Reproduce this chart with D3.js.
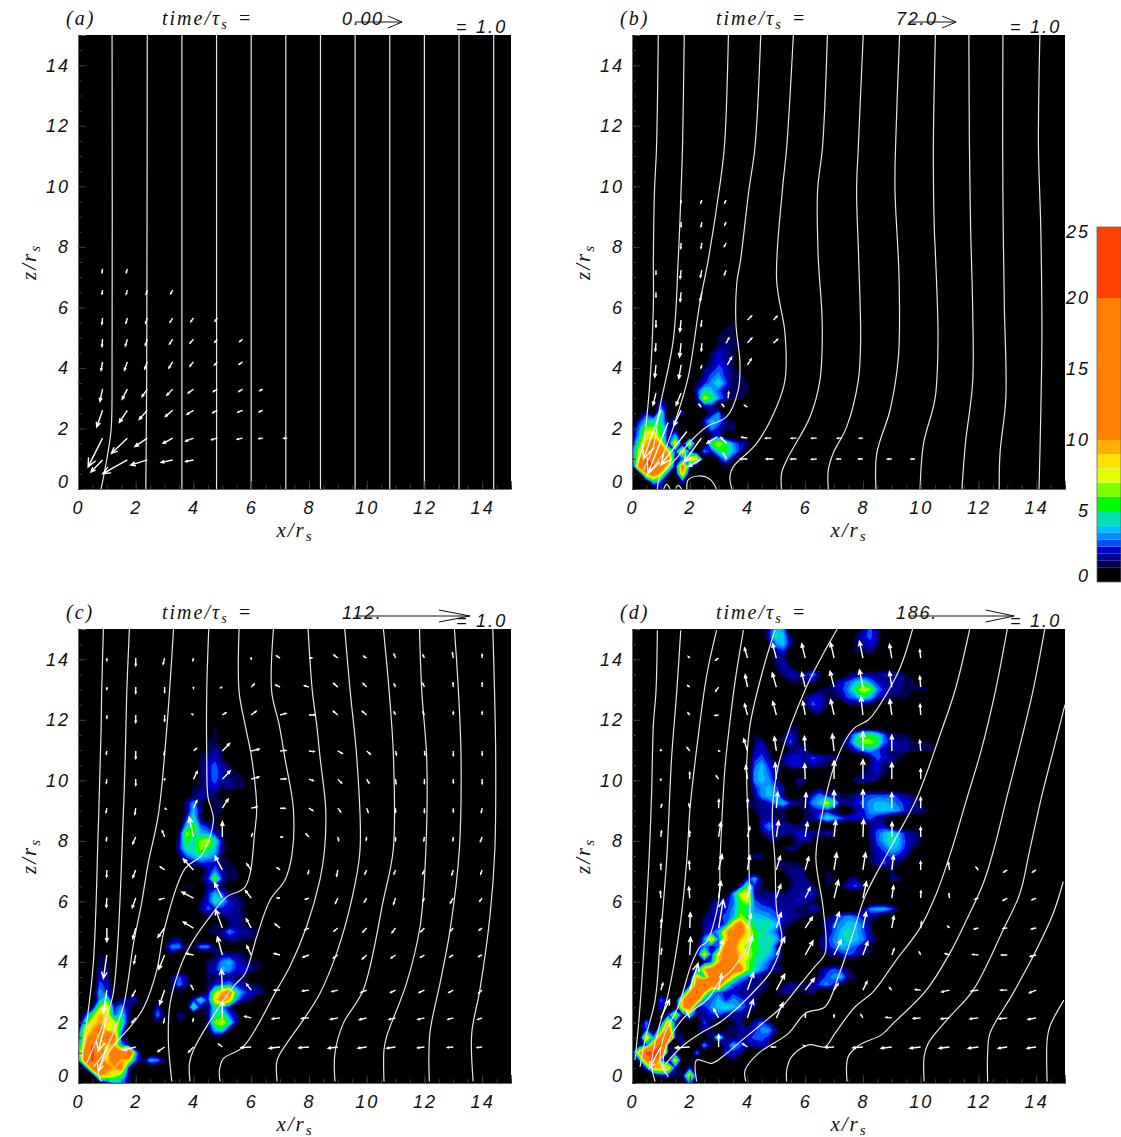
<!DOCTYPE html>
<html><head><meta charset="utf-8">
<script src="https://cdn.jsdelivr.net/npm/d3@7"></script>
<style>html,body{margin:0;padding:0;background:#fff}svg{display:block}</style>
</head><body><svg id="c" width="1121" height="1137"></svg>
<script>
// ---------- colour bands ----------
const bandEdges = [1,1.5,2,2.5,3,3.5,4,5,6,7,8,9,10,20,25];
const bandColors = ["#000050","#000090","#0000d0","#0050ff","#0090ff","#00c0ff","#00e0b0","#00ff00","#80ff00","#e0ff00","#ffe000","#ffb000","#ff8000","#ff4000"];
const colorbarTicks = [0,5,10,15,20,25];
const heatCodes = ".abcdefghijklmn";
const heatValues = [0,1.25,1.75,2.25,2.75,3.25,3.75,4.5,5.5,6.5,7.5,8.5,9.5,12,22];
const heatStep = 0.25;

// ---------- density samples: [row, startColumn, codes]; row*0.25 = z, col*0.25 = x ----------
const heatA = [];
const heatB = [
[22,14,"a"],[21,13,"aa"],[20,12,"aaa"],[19,12,"abaa"],[18,11,"acba"],[17,11,"bcba"],[16,10,"abdca"],[15,10,"bdecaa"],
[14,9,"acegdaaa"],[13,9,"cgfdbaa"],[13,15,"aa"],[12,4,"a"],[12,9,"ajhecaa"],[11,4,"da"],[11,9,"abc"],[10,2,"c"],[10,4,"h"],[10,7,"c"],[10,11,"be"],
[9,1,"cfgga"],[9,6,"c"],[9,10,"cfeba"],[8,0,"aeiihca"],[8,10,"aecab"],[7,0,"afkkhbf"],[7,9,"a"],[7,11,"ac"],
[6,0,"bhlmlal"],[6,8,"k"],[6,11,"hjhecb"],[5,0,"cjmmmkcl"],[5,8,"c"],[5,10,"ecghfc"],[4,0,"bknmnmbdkk"],[4,12,"bfb"],
[3,1,"mnnmkam"],[3,8,"d"],[3,13,"a"],[2,2,"lmkc"],[2,7,"l"],[1,3,"gd"],[1,7,"c"],[0,4,"b"]
];
const heatC = [
[47,19,"a"],[46,19,"a"],[45,18,"aa"],[44,18,"aba"],[43,17,"abca"],[42,17,"acdba"],[41,17,"acdcaa"],[40,17,"acdbbaa"],[39,16,"aabcabaa"],
[38,16,"acb"],[38,19,"a"],[37,15,"bea"],[37,19,"aa"],[36,15,"afb"],[36,19,"aa"],[35,15,"cga"],[35,19,"a"],[34,15,"fhdca"],[33,14,"aihfeca"],
[32,14,"bhgijgb"],[31,14,"cggihfb"],[30,14,"adfgfea"],[29,15,"abcccaa"],[28,18,"bebaa"],[27,17,"acicaa"],[26,15,"aa"],[26,18,"bba"],
[25,18,"cfdaa"],[24,17,"acgfcba"],[23,17,"bdcccba"],[22,18,"a"],[22,20,"abba"],[21,19,"a"],[21,21,"aba"],[20,18,"aabecbba"],[19,20,"abbaa"],[19,13,"ab"],
[18,12,"aeea"],[18,16,"aeea"],[17,13,"a"],[17,19,"abbba"],[17,3,"a"],[16,3,"aa"],[16,18,"abefcbaa"],[15,3,"ba"],[15,18,"bcfeccba"],[14,3,"cb"],[14,13,"adb"],[14,18,"aabbaa"],
[13,3,"dc"],[13,13,"aeb"],[13,18,"acdecbaa"],[12,3,"fc"],[12,5,"a"],[12,13,"a"],[12,18,"bilmgdcba"],[11,3,"eh"],[11,6,"ba"],[11,7,"bc"],[11,16,"cg"],[11,18,"ckmkeba"],
[10,2,"aikcea"],[10,7,"b"],[10,11,"c"],[10,16,"hb"],[10,18,"ageb"],[9,1,"chlkdgb"],[9,11,"ea"],[9,14,"ba"],[9,18,"bghdb"],[8,1,"gklkjha"],[8,11,"a"],[8,14,"a"],[8,18,"aijgb"],
[7,0,"ajlnjkf"],[7,18,"afga"],[6,0,"bkmlnmc"],[6,19,"a"],[5,0,"clnmkleb"],[4,0,"gmnmkmmnf"],[3,0,"cmnmkmlkd"],[3,9,"afea"],[2,1,"bmnmlmc"],[1,3,"lkjhb"],[0,4,"a"],[0,5,"eeb"]
];
const heatD = [
[60,19,"cfe"],[60,32,"bdb"],[59,19,"cgfa"],[59,31,"acdb"],[58,19,"aefb"],[58,31,"abcb"],[57,20,"bc"],[57,31,"aab"],[56,20,"bb"],[55,20,"aca"],
[54,16,"a"],[54,21,"bcb"],[54,24,"beb"],[54,30,"abbbbcbba"],[53,22,"aa"],[53,24,"ab"],[53,28,"acdfgecbbbaa"],[52,26,"aabcehjiecbbaaaa"],[51,24,"acca"],[51,28,"abdegfcbaaa"],
[50,24,"adca"],[50,30,"aaaa"],[49,25,"ab"],[47,22,"aa"],[46,17,"a"],[46,21,"aca"],[46,30,"bfhhgdaaa"],[45,17,"ac"],[45,21,"ada"],[45,29,"acgiihdcbbaaa"],
[44,17,"bca"],[44,22,"abb"],[44,30,"acefdbabbaaaa"],[43,17,"cdb"],[43,21,"bccbdcbba"],[43,33,"adcba"],[42,17,"dfcb"],[42,21,"accbbba"],[42,33,"bcaa"],[41,17,"efdb"],[41,32,"abca"],
[40,17,"efeb"],[40,23,"bb"],[40,31,"bbba"],[39,17,"cefdb"],[39,23,"a"],[39,26,"a"],[39,28,"a"],[38,17,"befea"],[38,24,"acecbaa"],[38,31,"bcddddcba"],
[37,16,"aabcefcbaefjgbbcd"],[37,33,"effedcba"],[36,17,"abbaa"],[36,24,"abcca"],[36,31,"bcefffecbba"],[35,18,"bbaa"],[35,24,"abdgfdcccdba"],[34,18,"cecbbaa"],[34,33,"acb"],
[33,18,"acbbbccbbcb"],[33,33,"bdfgecba"],[32,19,"aa"],[32,23,"bba"],[32,33,"adfgfcba"],[31,21,"aba"],[31,33,"acdfeca"],[30,16,"abb"],[30,33,"abcdcb"],[29,20,"abaa"],[29,33,"abdba"],[29,36,"a"],
[28,21,"abba"],[28,27,"a"],[28,36,"a"],[27,16,"cfa"],[27,22,"abb"],[27,27,"aa"],[27,30,"ab"],[27,36,"bb"],[26,15,"bhc"],[26,18,"a"],[26,22,"abbb"],[26,27,"a"],[26,29,"acdb"],
[25,14,"ejjb"],[25,18,"abba"],[25,22,"bbcca"],[24,11,"abcdhjdcbbbbcba"],[23,11,"bccehgeddcbba"],[23,24,"acb"],[23,32,"aeffda"],[22,10,"abcdeihffedcbba"],[22,27,"abdedcba"],
[21,10,"bcbdkmigggfba"],[21,26,"abdeffda"],[20,10,"bcflmmkhgfda"],[20,27,"bdfgfdb"],[19,10,"eldkmljhggfb"],[19,26,"acefgfeba"],[18,9,"aebdmmjihggc"],[18,26,"acdfedba"],
[17,9,"akc"],[17,12,"kmmkjhgfda"],[17,27,"abcdcaa"],[16,10,"a"],[16,11,"dlmmkigfdb"],[15,9,"dlmmmmmigecba"],[15,26,"acdca"],[14,9,"lgmnmjfdba"],[14,26,"bdefb"],[14,31,"a"],
[13,8,"bmnmmhdcbbba"],[13,21,"abba"],[13,25,"bdeca"],[12,7,"alnlfdccbbba"],[12,20,"abb"],[12,24,"ab"],[11,4,"db"],[11,7,"knmedfcedcb"],[10,1,"a"],[10,4,"c"],[10,7,"lmccefgfeca"],
[9,5,"cja"],[9,8,"gabcdbbba"],[8,2,"e"],[8,4,"alc"],[8,10,"da"],[8,14,"ab"],[8,17,"cdb"],[7,2,"d"],[7,4,"hmb"],[7,9,"aba"],[7,13,"aa"],[7,15,"bbceeb"],
[6,2,"le"],[6,4,"mna"],[6,7,"b"],[6,11,"ahb"],[6,14,"abcddc"],[5,1,"acmna"],[5,7,"b"],[5,10,"fa"],[5,13,"bfdbbca"],[4,0,"alnnna"],[4,6,"b"],[4,9,"e"],[4,13,"dcb"],
[3,1,"cmnd"],[3,6,"k"],[3,14,"a"],[2,2,"dlllc"],[2,8,"c"],[1,4,"bb"],[1,6,"a"],[1,7,"aka"],[0,8,"e"]
];

// ---------- field lines: x, z pairs ----------
const linesA = [
[[1.18,15],[1.18,4],[1.15,2],[1.0,1],[.8,0]],
[[2.4,15],[2.38,4],[2.35,0]],[[3.6,15],[3.6,0]],[[4.8,15],[4.8,0]],[[6.0,15],[6.0,0]],[[7.2,15],[7.2,0]],
[[8.4,15],[8.4,0]],[[9.6,15],[9.6,0]],[[10.8,15],[10.8,0]],[[12,15],[12,0]],[[13.2,15],[13.2,0]],[[14.4,15],[14.4,0]]
];
const linesB = [
[[.91,15],[.85,11.3],[.78,9.87],[.74,7.56],[.74,6.03],[.6,3.27],[.39,1.51],[.16,.74]],
[[1.81,15],[1.75,11.3],[1.7,9.87],[1.6,7.56],[1.43,4.92],[.97,2.72],[.74,1.4],[.39,.63]],
[[3.34,15],[3.2,11.3],[3.02,9.88],[2.64,7.56],[2.35,6.14],[1.95,3.71],[1.55,2.39],[1.08,1.18],[.56,.52]],
[[4.46,15],[4.26,11.3],[4.05,9.88],[3.76,7.56],[3.63,6.8],[3.6,5.47],[3.74,4.15],[3.68,3.27],[3.28,2.39],[2.59,2.06],[2.07,1.62],[1.49,.96],[.97,.41],[.88,0]],
[[5.59,15],[5.36,11.3],[5.21,9.88],[5.01,6.91],[5.3,5.14],[5.3,3.6],[5.01,2.72],[4.32,1.51],[3.51,.74],[3.39,.41],[3.46,0]],
[[6.77,15],[6.6,11.3],[6.43,9.87],[6.45,7.68],[6.59,5.47],[6.51,3.6],[6.17,2.39],[5.36,.96],[5.18,.52],[5.18,0]],
[[8.01,15],[7.84,11.3],[7.78,9.87],[7.85,7.68],[7.92,4.92],[7.84,3.6],[7.44,2.06],[6.97,1.18],[6.8,.63],[6.8,0]],
[[9.27,15],[9.13,11.3],[9.11,9.88],[9.23,7.56],[9.26,6.58],[9.23,4.37],[8.94,2.61],[8.48,1.18],[8.45,0]],
[[10.51,15],[10.44,11.3],[10.47,8.66],[10.52,7.56],[10.6,5],[10.5,3],[10.1,1.5],[9.98,0]],
[[11.67,15],[11.69,11.3],[11.73,8.66],[11.8,6],[11.8,3.5],[11.55,1.5],[11.43,0]],
[[12.85,15],[12.84,11.3],[12.86,8.66],[12.9,6],[12.95,3],[12.75,1.2],[12.72,0]],
[[14.13,15],[14.08,11.3],[14.16,8.66],[14.2,5],[14.15,2],[14.1,0]],
[[1.9,0],[1.95,.3],[2.3,.43],[2.7,.32],[2.93,0]],
[[1.1,0],[1.2,.15],[1.32,0]],[[1.5,0],[1.6,.12],[1.72,0]]
];
const linesC = [
[[.88,15],[.82,12.93],[.8,11.66],[.7,8.36],[.53,3.95],[.24,1.53],[.13,.76]],
[[1.78,15],[1.69,12.93],[1.65,11.3],[1.57,8.9],[1.2,2.85],[.88,1.97],[.3,.65]],
[[3.31,15],[3.17,12.93],[3.07,11.66],[2.79,8.9],[2.43,7.25],[2.2,5.93],[1.92,4.6],[1.57,2.52],[1.17,1.53],[.82,.87],[.54,.54]],
[[4.53,15],[4.46,12.93],[4.46,10.72],[4.5,9.46],[4.69,8.69],[4.28,7.53],[3.71,7.09],[3.01,5.16],[2.73,3.73],[2.29,2.52],[1.86,1.91],[1.11,1.09],[.71,.32],[.82,.05]],
[[5.58,15],[5.58,12.93],[5.79,11.83],[6.02,10.72],[6.19,9.07],[6.13,8.36],[5.79,6.48],[5.15,6.15],[4.57,5.49],[4,4.72],[3.59,3.95],[3.19,2.63],[3.13,1.42],[3.25,.05]],
[[6.77,15],[6.71,12.93],[6.97,11.83],[7.17,10.72],[7.46,9.07],[7.41,7.53],[7.17,6.71],[6.65,6.04],[6.19,4.83],[5.79,3.62],[5.38,3.18],[4.52,1.97],[4,1.09],[3.86,.65],[3.88,.05]],
[[7.97,15],[8.12,12.93],[8.27,11.83],[8.39,10.72],[8.58,9.07],[8.54,7.7],[8.38,6.71],[7.92,5.17],[7.34,3.85],[6.88,3.07],[5.73,1.2],[5.03,.8],[4.9,.43],[4.92,.05]],
[[9.24,15],[9.43,12.93],[9.66,10.72],[9.77,7.7],[9.48,6.05],[8.96,4.29],[8.38,2.96],[7.8,2.08],[7.23,1.31],[6.9,.76],[6.9,.05]],
[[10.58,15],[10.78,12.93],[10.93,10.72],[10.92,7.7],[10.58,6.05],[9.88,3.07],[9.19,1.97],[8.9,.98],[8.9,.05]],
[[11.83,15],[11.91,12.93],[12.08,10.72],[12.05,7.7],[11.85,5.17],[11.38,3.29],[10.69,1.53],[10.6,1.09],[10.6,.05]],
[[13.04,15],[13.18,12.93],[13.27,10.72],[13.21,7.7],[12.89,5.06],[12.54,3.29],[12.19,1.64],[12.17,.05]],
[[14.37,15],[14.43,12.93],[14.47,10.72],[14.44,7.7],[14.27,5.5],[13.92,3.07],[13.64,1.64],[13.69,.05]]
];
const linesD = [
[[.88,14.96],[.83,12.93],[.74,11.83],[.68,9.62],[.59,7.37],[.39,4.07],[.22,1.86],[.1,.76]],
[[1.69,14.96],[1.55,12.93],[1.37,10.72],[1.2,7.37],[.97,4.62],[.8,2.74],[.45,1.42],[.28,.54]],
[[2.93,14.96],[2.59,13.48],[2.3,11.5],[2.01,9.07],[1.9,7.37],[1.66,5.17],[1.26,2.96],[.91,1.75],[.68,.65],[.8,.05]],
[[3.86,14.96],[3.57,13.26],[3.34,11.5],[3.22,10.4],[3.05,7.37],[3.0,6],[2.59,4.67],[2.36,4.5],[2.07,3.96],[1.6,2.52],[1.14,1.64],[.97,.87],[1.14,.32]],
[[4.95,14.96],[4.55,13.7],[4.09,11.83],[3.97,10.4],[4.03,8.52],[4.05,7.37],[4.03,4.62],[3.8,4.18],[3.45,3.73],[2.99,3.3],[2.65,2.8],[1.72,2.08],[1.14,1.09],[1.09,.54],[1.26,.2]],
[[7.11,15],[6.05,13.1],[5.13,10.72],[4.89,9.4],[4.86,8.52],[4.95,7.37],[5.01,5.72],[5.19,4.78],[4.84,3.73],[4.38,3.18],[3.57,2.41],[2.99,1.97],[2.47,1.7],[1.72,1.2],[1.14,.6]],
[[9.72,15],[9.28,13.7],[8.59,12.5],[8.19,12],[7.67,11.7],[7.09,10.7],[6.51,8.52],[6.37,7.42],[6.63,5.72],[6.69,4.29],[6.34,3.85],[5.76,3.18],[5.19,2.52],[4.38,1.86],[3.68,1.31],[3.22,.93],[2.76,.65],[2.24,.76],[2.24,.05]],
[[11.7,15],[11.2,13],[10.67,11.5],[9.86,9.4],[8.94,7.75],[8.07,6.16],[7.66,4.95],[7.15,3.52],[6.69,2.52],[6,2.3],[5.42,1.64],[4.38,.98],[3.92,.43],[3.94,.05]],
[[13,15],[12.6,13],[12.1,11],[11.6,9.4],[11.07,7.7],[10.55,6.27],[9.97,5.11],[9.16,4.07],[8.36,3.02],[7.73,2.52],[7.03,1.64],[6.69,1.2],[6.11,1.26],[5.53,.87],[5.36,.43],[5.36,.05]],
[[14.3,15],[13.9,13],[13.4,11],[13,9.5],[12.53,7.7],[12.17,6.6],[11.59,5.39],[11.01,4.29],[10.2,3.07],[9.05,1.97],[8.64,1.59],[7.89,1.26],[7.49,.87],[7.45,.05]],
[[15,12.5],[14.6,11],[14.2,9.5],[13.78,7.7],[13.44,6.27],[12.86,5.06],[11.82,3.07],[10.9,2.08],[10.26,1.31],[10.12,.87],[10.12,.05]],
[[14.94,6.65],[14.59,5.6],[14.01,4.4],[13.2,2.96],[12.4,1.64],[12.32,.98],[12.32,.05]],
[[14.96,2.74],[14.47,1.86],[14.38,1.42],[14.38,.05]]
];

// ---------- velocity arrows: x, z, dx, dz ----------
const arrowsA = [
[.85,7.27,-.02,-.12],[1.71,7.27,-.04,-.12],
[.85,6.57,-.02,-.13],[1.71,6.57,-.04,-.13],[2.4,6.57,-.04,-.13],[3.28,6.57,-.07,-.12],
[.85,5.65,-.02,-.2],[1.71,5.65,-.05,-.17],[2.4,5.65,-.06,-.17],[3.28,5.65,-.09,-.14],[4,5.65,-.09,-.12],[4.83,5.65,-.08,-.1],
[.85,4.95,-.02,-.24],[1.71,4.95,-.07,-.22],[2.4,4.95,-.07,-.2],[3.28,4.95,-.11,-.16],[4,4.95,-.12,-.13],[4.83,4.95,-.09,-.1],[5.7,4.95,-.1,-.08],
[.85,4.2,-.05,-.28],[1.71,4.2,-.1,-.27],[2.4,4.2,-.09,-.23],[3.28,4.2,-.13,-.2],[4,4.2,-.12,-.14],[4.83,4.2,-.1,-.1],[5.7,4.2,-.12,-.08],
[.85,3.3,-.09,-.4],[1.71,3.3,-.18,-.33],[2.4,3.3,-.18,-.25],[3.28,3.3,-.2,-.2],[4,3.3,-.18,-.13],[4.83,3.3,-.14,-.08],[5.7,3.3,-.13,-.08],[6.4,3.3,-.1,-.05],
[.85,2.6,-.2,-.55],[1.71,2.6,-.28,-.4],[2.4,2.6,-.28,-.3],[3.28,2.6,-.25,-.2],[4,2.6,-.22,-.13],[4.83,2.6,-.16,-.08],[5.7,2.6,-.16,-.06],[6.4,2.6,-.12,-.05],
[.85,1.68,-.5,-.95],[1.71,1.68,-.55,-.5],[2.4,1.68,-.43,-.28],[3.28,1.68,-.33,-.17],[4,1.68,-.27,-.1],[4.83,1.68,-.2,-.05],[5.7,1.68,-.18,-.04],[6.4,1.68,-.13,-.02],[7.25,1.68,-.12,0],
[.85,.96,-.4,-.4],[1.71,.96,-.85,-.45],[2.4,.96,-.57,-.17],[3.28,.96,-.4,-.08],[4,.96,-.27,-.05]
];
const arrowsB = [
[1.7,9.55,-.01,-.1],[2.42,9.55,-.04,-.1],[3.26,9.55,-.05,-.1],
[1.7,8.82,0,-.15],[2.42,8.82,-.03,-.15],[3.26,8.82,-.05,-.1],
[1.7,8.13,-.01,-.18],[2.42,8.13,-.03,-.17],[3.26,8.13,-.06,-.12],
[.83,7.23,0,-.13],[1.7,7.23,-.03,-.27],[2.42,7.23,-.05,-.23],[3.26,7.23,-.06,-.15],
[.83,6.5,0,-.15],[1.7,6.5,-.03,-.3],[2.42,6.5,-.06,-.28],
[.83,5.58,0,-.22],[1.7,5.58,-.04,-.37],[2.42,5.58,-.03,-.2],[4,5.58,.14,.14],[4.9,5.58,.12,.13],
[.83,4.82,-.02,-.25],[1.7,4.82,-.05,-.45],[2.42,4.82,-.02,-.25],[3.26,4.82,.1,.17],[4,4.82,.15,.17],[4.9,4.82,.14,.12],
[.83,4.1,-.04,-.4],[1.7,4.1,-.08,-.45],[2.42,4.1,-.03,-.1],[3.3,4.1,.15,.25],[4,4.1,.13,.2],
[.83,3.17,-.1,-.4],[1.7,3.17,-.17,-.4],[3.33,3.0,.02,.2],
[2.4,2.7,-.08,.1],[3.2,2.7,-.08,.1],[4,2.7,-.1,.07],
[1.0,2.6,-.6,-1.6],[1.25,2.2,-.7,-1.7],[1.7,2.6,-.25,-.5],[1.9,1.9,-.9,-1.1],[2.4,1.68,-.6,-.8],[2.95,1.72,-.35,-.2],[3.28,1.5,-.2,.2],
[4,1.68,-.2,.03],[4.83,1.68,-.2,0],[5.7,1.68,-.18,0],[6.4,1.68,-.17,0],[7.25,1.68,-.13,0],[8,1.68,-.12,0],
[2.4,.99,-.45,-.25],[3.28,.99,-.12,.2],[4,.99,-.25,0],[4.9,.99,-.25,0],[5.7,.99,-.2,0],[6.4,.99,-.18,-.01],[7.25,.99,-.15,0],[8,.99,-.15,0],[9,.99,-.15,0],[9.8,.99,-.13,0]
];
// rows: [z, [dx,dz, dx,dz, ...]] with tails at x = 1, 2, 3 ...
const arrowRowsC = [
[14.04,[0,-.08, 0,-.25, -.05,-.2, -.02,-.08, 0,0, 0,-.03, -.12,.07, .1,0, -.13,.1, -.1,.06, -.05,.13, -.05,.1, -.03,.17, 0,.12]],
[13.08,[0,-.07, 0,-.2, 0,-.17, 0,-.04, -.06,-.02, .1,.1, -.15,.07, -.15,.05, -.14,.12, -.12,.12, -.05,.1, -.05,.12, -.01,.14, 0,.14]],
[12.16,[0,-.1, 0,-.25, 0,-.2, -.05,.03, .12,.07, .17,.12, .2,.05, .2,0, -.15,.12, -.15,.12, -.05,.1, -.05,.1, 0,.1, 0,.1]],
[10.97,[-.02,-.1, 0,-.25, -.02,-.12, .1,.08, .25,.25, .27,.06, .2,.02, .18,-.02, .15,-.08, .12,-.1, .03,-.13, .02,-.13, 0,-.15, 0,-.13]],
[10.04,[-.02,-.13, 0,-.2, 0,-.02, .13,.25, .27,.27, .27,.07, .2,.01, .15,-.05, .13,-.13, .08,-.13, .02,-.15, 0,-.14, 0,-.12, 0,-.15]],
[9.08,[-.03,-.14, -.03,-.2, .05,-.03, .12,.25, .2,.3, .2,.04, .17,0, .13,-.08, .1,-.12, .05,-.13, 0,-.13, 0,-.14, 0,-.12, -.03,-.14]],
[8.13,[-.02,-.12, -.1,-.22, -.08,.2, -.15,.65, 0,.5, .04,.1, .08,0, -.1,.1, .03,-.12, -.02,-.1, 0,-.12, -.02,-.13, -.01,-.12, -.06,-.15]],
[7.04,[-.01,-.23, -.1,-.25, -.15,.1, -.35,.36, -.25,.45, -.15,.2, -.1,.07, -.03,-.12, -.04,-.2, -.06,-.13, -.05,-.13, -.06,-.13, -.05,-.16, -.05,-.13]],
[6.11,[-.02,-.3, -.12,-.32, -.18,-.05, -.4,.2, -.27,.5, -.2,.25, -.1,0, -.12,-.04, -.08,-.17, -.08,-.13, -.07,-.2, -.05,-.1, -.1,-.16, -.08,-.1]],
[5.12,[0,-.45, -.1,-.35, -.23,-.3, -.35,.2, -.23,.6, -.17,.3, -.17,.13, -.14,-.06, -.13,-.1, -.13,-.13, -.12,-.15, -.12,-.12, -.1,-.1, -.1,-.07]],
[4.23,[-.12,-.77, -.06,-.28, -.2,-.47, -.25,.05, -.17,.6, -.15,.3, -.2,.05, -.2,-.07, -.15,-.1, -.15,-.13, -.15,-.1, -.13,-.08, -.12,-.07, -.12,-.05]],
[3.07,[-.12,-.75, -.12,-.2, -.17,-.47, -.08,.15, -.03,.68, -.16,.2, -.2,0, -.22,-.03, -.2,-.05, -.2,-.08, -.17,-.08, -.18,-.08, -.15,-.08, -.12,-.1]],
[2.15,[-.3,-1.1, -.13,-.15, -.03,-.15, -.02,-.1, 0,.55, -.22,.05, -.27,-.03, -.25,-.02, -.25,-.05, -.25,-.06, -.22,-.05, -.22,-.05, -.18,-.05, -.15,-.05]],
[1.19,[-.3,-.8, -.43,-.1, -.23,-.15, -.17,-.17, -.13,.1, -.35,-.02, -.38,-.04, -.35,-.03, -.33,-.04, -.3,-.04, -.3,-.04, -.23,-.03, -.2,-.02, -.17,-.02]]
];
const arrowRowsD = [
[14.04,[0,0, -.05,.05, -.1,-.07, -.1,.33, -.13,.47, -.12,.47, -.12,.5, -.12,.55, -.08,.45, -.03,.27]],
[13.08,[0,0, -.07,.05, -.1,-.13, -.08,.4, -.14,.46, -.12,.48, -.14,.52, -.12,.57, -.08,.5, -.03,.35]],
[12.16,[0,0, -.06,.07, -.13,-.02, -.1,.36, -.12,.44, -.08,.44, -.12,.5, -.07,.6, -.07,.5, -.02,.35]],
[10.97,[0,.04, -.09,.11, .03,0, -.13,.4, -.07,.46, -.03,.48, -.06,.55, 0,.63, 0,.52, -.03,.35]],
[10.04,[0,-.03, 0,.22, -.08,.11, -.06,.44, -.04,.53, -.02,.5, 0,.6, 0,.64, 0,.53, 0,.33]],
[9.08,[.03,.12, -.03,.13, .01,.28, .01,.3, .05,.53, .03,.5, 0,.58, 0,.6, 0,.5, 0,.35]],
[8.13,[.02,.19, 0,.18, .08,.48, .08,.33, .08,.52, .08,.48, .06,.54, .02,.57, .01,.48, 0,.31]],
[7.04,[0,.19, -.02,.28, .12,.5, .08,.47, .14,.45, .12,.42, .09,.55, .09,.56, .06,.47, 0,.27, -.04,.24, -.08,.09, -.12,-.07, -.12,-.07]],
[6.11,[-.02,.22, -.03,.36, .08,.55, .09,.41, .15,.44, .17,.34, .15,.58, .12,.53, .06,.4, .01,.23, -.02,.14, -.12,-.04, -.14,-.08, -.14,-.06]],
[5.12,[.02,.28, .02,.5, .16,.93, .12,.46, .17,.5, .25,.36, .18,.52, .11,.52, .07,.39, .03,.2, -.06,.06, -.14,-.03, -.14,-.01, -.16,-.03]],
[4.23,[.03,.2, .03,.58, .15,.5, .17,.64, .29,.58, .27,.46, .25,.5, .17,.44, .08,.2, -.05,.1, -.15,.05, -.2,.02, -.2,0, -.2,-.05]],
[3.07,[.07,.22, .29,.88, .1,.54, .21,.57, .29,.52, .32,.39, .14,.21, .14,.28, -.08,.08, -.18,.02, -.27,-.06, -.25,-.03, -.23,0, -.23,-.09]],
[2.15,[.3,.6, -.1,.2, -.17,.3, .2,.6, .23,.5, .01,.13, 0,.1, -.07,.11, -.2,.02, -.25,-.02, -.29,-.03, -.29,-.03, -.28,-.03, -.28,-.05]],
[1.19,[-.4,-.7, -.5,-.03, 0,.4, -.17,.11, -.17,0, -.06,.05, -.29,-.02, -.35,-.03, -.37,-.04, -.37,-.04, -.36,-.04, -.35,-.04, -.31,-.04, -.31,-.04]]
];

// ---------- labels ----------
const panelTags = ["(a)","(b)","(c)","(d)"];
const timeLabels = ["0.00","72.0","112.","186."];
const xTicks = [0,2,4,6,8,10,12,14];
const minorTicks = d3.range(0,15.01,.5);
const refLengths = [1.63,1.63,3.98,3.64]; // key-arrow length in x units

// ---------- layout ----------
const panelW = 433, panelH = 454;
const origins = [[78,35],[632,35],[78,629],[632,629]];
const svg = d3.select("#c");
const defs = svg.append("defs");
const sans = "'Liberation Sans', sans-serif", serif = "'Liberation Serif', serif";

function rowsToArrows(rows){
  return rows.flatMap(([z,v]) => d3.range(0,v.length,2).map(i => [i/2+1, z, v[i], v[i+1]]));
}
function gridFrom(cells){
  const n = 61, g = new Float64Array(n*n);
  cells.forEach(([r,c,s]) => { [...s].forEach((ch,k) => {
    if (c+k<n && r<n) g[r*n+c+k] = heatValues[heatCodes.indexOf(ch)];
  });});
  return {n, g};
}
const heats = [heatA,heatB,heatC,heatD];
const lineSets = [linesA,linesB,linesC,linesD];
const arrowSets = [arrowsA,arrowsB,rowsToArrows(arrowRowsC),rowsToArrows(arrowRowsD)];

function sub(t, main, s){
  t.append("tspan").text(main);
  t.append("tspan").attr("dy",4).attr("font-size","0.72em").text(s);
}

origins.forEach(([ox,oy],i) => {
  const x = d3.scaleLinear().domain([0,15]).range([0,panelW]);
  const y = d3.scaleLinear().domain([0,15]).range([panelH,0]);
  const g = svg.append("g").attr("transform",`translate(${ox},${oy})`);
  g.append("rect").attr("width",panelW).attr("height",panelH).attr("fill","#000");
  defs.append("clipPath").attr("id","clip"+i).append("rect").attr("width",panelW).attr("height",panelH);
  const inner = g.append("g").attr("clip-path",`url(#clip${i})`);

  // filled contours
  const {n,g:vals} = gridFrom(heats[i]);
  const contours = d3.contours().size([n,n]).thresholds(bandEdges.slice(0,-1)).smooth(true)(Array.from(vals));
  const proj = d3.geoTransform({point(px,py){ this.stream.point(x((px-.5)*heatStep), y((py-.5)*heatStep)); }});
  const path = d3.geoPath(proj);
  inner.selectAll("path.h").data(contours).join("path").attr("class","h")
    .attr("d",path).attr("fill",(d,k)=>bandColors[k]).attr("stroke","none");

  // field lines
  const line = d3.line().x(d=>x(d[0])).y(d=>y(d[1])).curve(d3.curveCatmullRom.alpha(.5));
  inner.selectAll("path.f").data(lineSets[i]).join("path").attr("class","f")
    .attr("d",line).attr("fill","none").attr("stroke","#e6e6e6").attr("stroke-width",1.2);

  // arrows
  const arrow = ([ax,az,dx,dz]) => {
    const x0=x(ax), y0=y(az), x1=x(ax+dx), y1=y(az+dz);
    const a=Math.atan2(y1-y0,x1-x0), L=Math.hypot(x1-x0,y1-y0), h=Math.max(L*.3,1.5), w=.42;
    const b1=[x1-h*Math.cos(a-w), y1-h*Math.sin(a-w)], b2=[x1-h*Math.cos(a+w), y1-h*Math.sin(a+w)];
    return `M${x0},${y0}L${x1},${y1}M${b1}L${x1},${y1}L${b2}`;
  };
  inner.selectAll("path.a").data(arrowSets[i].filter(d=>d[2]||d[3])).join("path").attr("class","a")
    .attr("d",arrow).attr("fill","none").attr("stroke","#fff").attr("stroke-width",1.4);

  // axes
  const xAxis = g.append("g").attr("transform",`translate(0,${panelH})`)
    .call(d3.axisBottom(x).tickValues(xTicks).tickSize(-8).tickPadding(12));
  const yAxis = g.append("g").call(d3.axisLeft(y).tickValues(xTicks).tickSize(-8).tickPadding(8));
  g.append("g").attr("transform",`translate(0,${panelH})`).call(d3.axisBottom(x).tickValues(minorTicks).tickSize(-4).tickFormat(""));
  g.append("g").call(d3.axisLeft(y).tickValues(minorTicks).tickSize(-4).tickFormat(""));
  g.selectAll(".tick line").attr("stroke","#3a3a3a");
  g.selectAll(".domain").attr("stroke","#6a6a6a");
  [xAxis,yAxis].forEach(a => a.selectAll("text").attr("font-family",sans).attr("font-style","italic")
    .attr("font-size",18).attr("letter-spacing",2).attr("fill","#111"));
  xAxis.selectAll("text").attr("dy",".72em");
  yAxis.selectAll(".tick").filter(d=>d===0).select("text").attr("dy","-.1em");

  // axis titles
  const xt = g.append("text").attr("x",217).attr("y",panelH+48).attr("text-anchor","middle")
    .attr("font-family",serif).attr("font-style","italic").attr("font-size",21).attr("letter-spacing",2).attr("fill","#111");
  sub(xt,"x/r","s");
  const zt = g.append("text").attr("transform",`translate(-42,${panelH/2}) rotate(-90)`).attr("text-anchor","middle")
    .attr("font-family",serif).attr("font-style","italic").attr("font-size",21).attr("letter-spacing",2).attr("fill","#111");
  sub(zt,"z/r","s");

  // header
  const head = (tx,ty,txt,anchor) => g.append("text").attr("x",tx).attr("y",ty).attr("text-anchor",anchor||"start")
    .attr("font-family",serif).attr("font-style","italic").attr("font-size",20).attr("letter-spacing",2).attr("fill","#111").text(txt);
  head(-12,-10,panelTags[i]);
  const tl = head(84,-10,"");
  sub(tl,"time/τ","s");
  tl.append("tspan").attr("dy",-4).attr("dx",9).text("=");
  g.append("text").attr("x",264).attr("y",-10).attr("font-family",sans).attr("font-style","italic")
    .attr("font-size",18).attr("letter-spacing",1.7).attr("fill","#111").text(timeLabels[i]);
  // key arrow of unit length
  const kx0 = 277, kL = x(refLengths[i]), ky = -13;
  g.append("path").attr("d",`M${kx0},${ky}L${kx0+kL},${ky}M${kx0+kL-Math.max(14,kL*.27)},${ky-6}L${kx0+kL},${ky}L${kx0+kL-Math.max(14,kL*.27)},${ky+6}`)
    .attr("fill","none").attr("stroke","#111").attr("stroke-width",1);
  g.append("text").attr("x",378).attr("y",-2).attr("font-family",sans).attr("font-style","italic")
    .attr("font-size",18).attr("letter-spacing",2.2).attr("fill","#111").text("= 1.0");
});

// colour bar
const cy = d3.scaleLinear().domain([0,25]).range([582,227]);
const bar = svg.append("g").attr("transform","translate(1097,0)");
const barEdges = [0,...bandEdges];
bar.selectAll("rect").data(["#000",...bandColors]).join("rect")
  .attr("x",0).attr("width",24)
  .attr("y",(d,k)=>cy(barEdges[k+1])).attr("height",(d,k)=>cy(barEdges[k])-cy(barEdges[k+1]))
  .attr("fill",d=>d);
bar.append("rect").attr("width",24).attr("y",227).attr("height",355).attr("fill","none").attr("stroke","#666").attr("stroke-width",.8);
const barAxis = bar.append("g").call(d3.axisLeft(cy).tickValues(colorbarTicks).tickSize(0).tickPadding(7));
barAxis.select(".domain").remove();
barAxis.selectAll("text").attr("font-family",sans).attr("font-style","italic").attr("font-size",18).attr("letter-spacing",2).attr("fill","#111");
barAxis.selectAll(".tick").filter(d=>d===25).select("text").attr("dy",".6em");
barAxis.selectAll(".tick").filter(d=>d===0).select("text").attr("dy","-.05em");
</script></body></html>
